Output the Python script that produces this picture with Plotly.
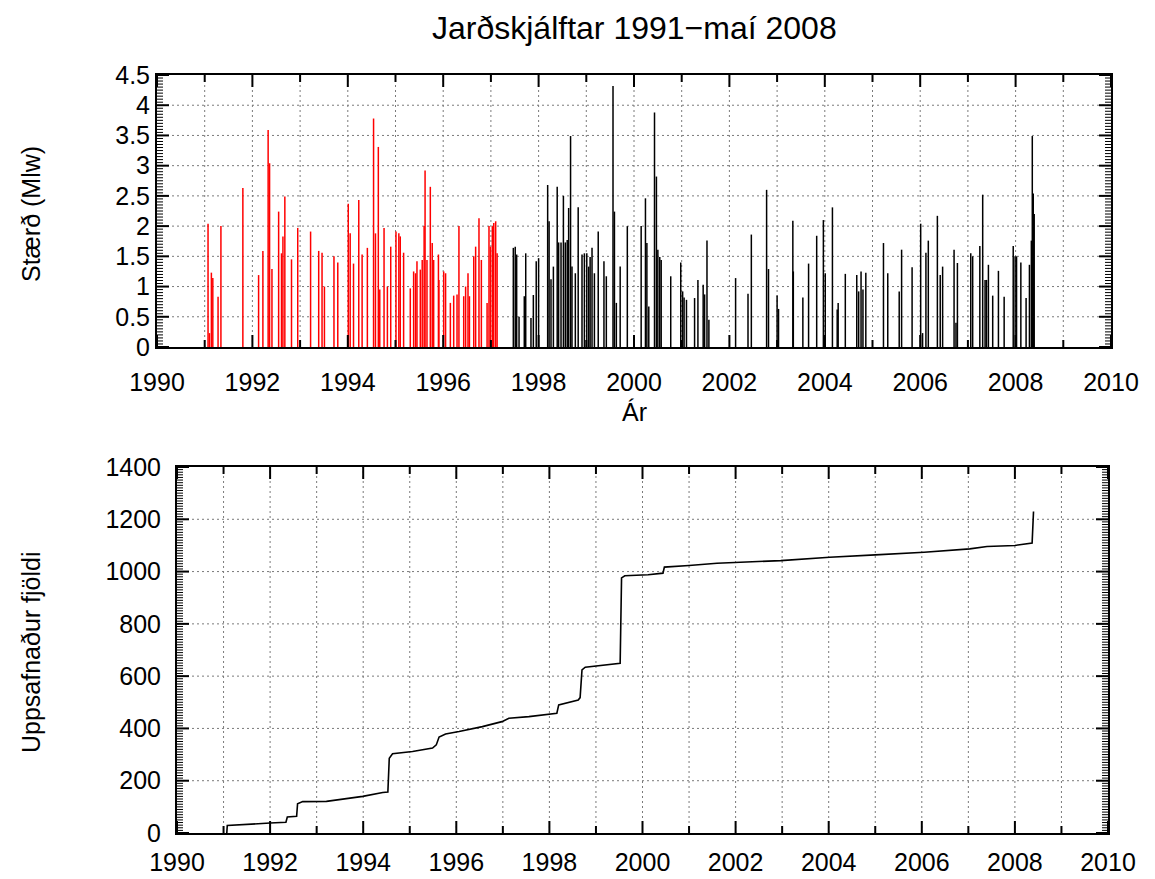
import plotly.graph_objects as go

# ---------------- data ----------------
red_years = [1991.07, 1991.10, 1991.14, 1991.17, 1991.28, 1991.34, 1991.80,
             1992.13, 1992.22, 1992.33, 1992.36, 1992.41, 1992.55, 1992.61, 1992.64,
             1992.68, 1992.82, 1992.95, 1993.22, 1993.39, 1993.46, 1993.51, 1993.71,
             1993.79, 1994.01, 1994.05, 1994.12, 1994.23, 1994.30, 1994.41, 1994.54,
             1994.58, 1994.64, 1994.67, 1994.76, 1994.83, 1994.90, 1995.01, 1995.07,
             1995.10, 1995.17, 1995.31, 1995.38, 1995.42, 1995.45, 1995.52, 1995.56,
             1995.60, 1995.62, 1995.66, 1995.73, 1995.77, 1995.80, 1995.90, 1995.91,
             1996.01, 1996.05, 1996.15, 1996.22, 1996.29, 1996.33, 1996.43, 1996.47,
             1996.52, 1996.55, 1996.64, 1996.68, 1996.75, 1996.80, 1996.92, 1996.96,
             1996.99, 1997.03, 1997.06, 1997.10, 1997.13]
red_mags = [2.04, 0.23, 1.23, 1.14, 0.83, 2.00, 2.63,
            1.19, 1.59, 3.59, 3.04, 1.29, 2.24, 1.55, 1.83,
            2.49, 1.45, 1.97, 1.91, 1.59, 1.56, 1.00, 1.50,
            1.40, 2.37, 1.88, 1.38, 2.43, 1.53, 1.64, 3.78,
            1.88, 3.31, 0.95, 1.97, 1.00, 1.66, 1.91, 1.88,
            1.83, 1.56, 0.97, 1.25, 1.22, 1.42, 1.28, 1.44,
            2.00, 2.92, 1.44, 2.65, 1.72, 1.44, 1.53, 1.11,
            1.25, 1.22, 0.73, 0.85, 0.87, 2.00, 0.84, 1.00,
            1.22, 0.84, 1.50, 1.66, 2.13, 1.44, 0.73, 2.00,
            1.66, 2.00, 2.05, 2.08, 1.55]

black_years = [1997.47, 1997.51, 1997.54, 1997.59, 1997.70, 1997.73, 1997.84, 1997.89,
               1997.95, 1998.00, 1998.19, 1998.22, 1998.26, 1998.31, 1998.39, 1998.42,
               1998.47, 1998.52, 1998.56, 1998.60, 1998.63, 1998.67, 1998.70, 1998.77,
               1998.83, 1998.91, 1998.96, 1999.01, 1999.05, 1999.08, 1999.12, 1999.17,
               1999.25, 1999.37, 1999.42, 1999.56, 1999.59, 1999.63, 1999.71, 1999.86,
               2000.15, 2000.24, 2000.27, 2000.31, 2000.43, 2000.47, 2000.50, 2000.54,
               2000.57, 2000.77, 2000.98, 2001.02, 2001.05, 2001.10, 2001.27, 2001.34,
               2001.45, 2001.48, 2001.53, 2001.57, 2002.13, 2002.39, 2002.46, 2002.78,
               2002.82, 2003.00, 2003.03, 2003.33, 2003.34, 2003.54, 2003.66, 2003.83,
               2003.97, 2004.01, 2004.16, 2004.26, 2004.28, 2004.43, 2004.67, 2004.71,
               2004.76, 2004.80, 2004.86, 2005.23, 2005.32, 2005.56, 2005.61, 2005.83,
               2006.01, 2006.05, 2006.12, 2006.17, 2006.36, 2006.42, 2006.47, 2006.71,
               2006.75, 2006.78, 2007.06, 2007.10, 2007.25, 2007.31, 2007.36, 2007.39,
               2007.43, 2007.52, 2007.64, 2007.76, 2007.95, 2007.99, 2008.02, 2008.11,
               2008.22, 2008.29, 2008.33, 2008.35, 2008.37, 2008.39]
black_mags = [1.64, 1.66, 1.53, 0.50, 0.84, 1.55, 0.48, 0.86,
              1.42, 1.47, 2.68, 2.08, 1.12, 1.33, 2.65, 1.73,
              1.73, 2.50, 1.73, 1.77, 2.30, 3.49, 1.33, 1.22,
              2.31, 1.53, 1.55, 1.55, 1.33, 1.49, 1.64, 1.22,
              1.91, 1.42, 1.17, 4.32, 2.24, 0.73, 1.33, 2.00,
              2.00, 2.46, 1.72, 0.67, 3.88, 2.82, 1.61, 1.49,
              1.44, 1.17, 1.40, 0.92, 0.82, 0.78, 0.81, 1.11,
              1.03, 0.87, 1.76, 0.45, 1.14, 0.88, 1.86, 2.60,
              1.29, 0.85, 0.63, 2.09, 1.25, 0.82, 1.38, 1.84,
              2.10, 1.22, 2.31, 0.62, 0.73, 1.21, 1.19, 0.92,
              1.25, 0.95, 1.23, 1.72, 1.22, 0.92, 1.61, 1.32,
              2.04, 0.23, 1.56, 1.76, 2.17, 1.19, 1.33, 1.61,
              0.40, 1.39, 1.55, 1.50, 1.67, 2.52, 1.11, 1.11,
              1.36, 0.85, 1.26, 0.83, 1.67, 1.50, 1.50, 1.40,
              0.81, 1.36, 1.76, 3.49, 2.54, 2.20]

cum_years = [1991.07, 1991.08, 1992.00, 1992.34, 1992.37, 1992.57, 1992.59, 1992.70,
             1993.21, 1993.99, 1994.42, 1994.53, 1994.56, 1994.63, 1995.06, 1995.49,
             1995.57, 1995.63, 1995.77, 1996.06, 1996.56, 1996.98, 1997.13, 1997.56,
             1998.16, 1998.20, 1998.62, 1998.66, 1998.70, 1998.77, 1999.52, 1999.55,
             1999.62, 2000.12, 2000.44, 2000.47, 2001.00, 2001.60, 2002.97, 2004.02,
             2005.00, 2006.05, 2007.03, 2007.40, 2008.00, 2008.37, 2008.40]
cum_counts = [0, 29, 38, 41, 61, 64, 112, 120,
              121, 140, 155, 157, 286, 303, 312, 325,
              337, 367, 379, 388, 407, 426, 439, 445,
              458, 490, 509, 518, 624, 634, 649, 976,
              984, 988, 994, 1017, 1023, 1032, 1042, 1055,
              1064, 1074, 1087, 1096, 1100, 1109, 1230]

# axis tick / grid values
year_major = list(range(1990, 2011, 2))
year_minor = list(range(1991, 2010, 2))
grid_years = list(range(1991, 2010))
mag_major = [0, 0.5, 1, 1.5, 2, 2.5, 3, 3.5, 4, 4.5]
mag_minor = [k / 20 for k in range(1, 90) if k % 10 != 0]
count_major = [0, 200, 400, 600, 800, 1000, 1200, 1400]
count_minor = [k * 10 for k in range(1, 140) if k % 20 != 0]
grid_mags = [0.5, 1, 1.5, 2, 2.5, 3, 3.5, 4]
grid_counts = [200, 400, 600, 800, 1000, 1200]

title_text = "Jarðskjálftar 1991−maí 2008"
top_ytitle = "Stærð (Mlw)"
top_xtitle = "Ár"
bottom_ytitle = "Uppsafnaður fjöldi"

# ---------------- figure ----------------
W, H = 1155, 879
FONT = "Liberation Sans, Arial, Helvetica, sans-serif"
FS = 25
GRIDC = "#7a7a7a"
DASH = "2px,3px"

# plot-area geometry (pixels) of the two panels
TOP = dict(l=157, r=1111, t=75, b=347, x0=1990, x1=2010, y0=0, y1=4.5)
BOT = dict(l=177, r=1108, t=467, b=833, x0=1990, x1=2010, y0=0, y1=1400)


def impulses(xs, ys):
    X, Y = [], []
    for x, y in zip(xs, ys):
        X += [x, x, None]
        Y += [0, y, None]
    return X, Y


def px(x):
    return x / W


def py(y):
    return 1 - y / H


def tick_segments(g, xvals, yvals, lenpx):
    """Inside tick marks on all four sides, in data units of the panel."""
    ux = (g["x1"] - g["x0"]) / (g["r"] - g["l"]) * lenpx
    uy = (g["y1"] - g["y0"]) / (g["b"] - g["t"]) * lenpx
    X, Y = [], []
    for v in xvals:
        X += [v, v, None, v, v, None]
        Y += [g["y0"], g["y0"] + uy, None, g["y1"], g["y1"] - uy, None]
    for v in yvals:
        X += [g["x0"], g["x0"] + ux, None, g["x1"], g["x1"] - ux, None]
        Y += [v, v, None, v, v, None]
    return X, Y


fig = go.Figure()
rx, ry = impulses(red_years, red_mags)
bx, by = impulses(black_years, black_mags)
fig.add_trace(go.Scatter(x=rx, y=ry, mode="lines", line=dict(color="#ff0000", width=1.5),
                         xaxis="x", yaxis="y", showlegend=False, hoverinfo="skip"))
fig.add_trace(go.Scatter(x=bx, y=by, mode="lines", line=dict(color="#000000", width=1.5),
                         xaxis="x", yaxis="y", showlegend=False, hoverinfo="skip"))
fig.add_trace(go.Scatter(x=cum_years, y=cum_counts, mode="lines",
                         line=dict(color="#000000", width=1.6),
                         xaxis="x2", yaxis="y2", showlegend=False, hoverinfo="skip"))

# tick marks (major and minor) for both panels
for g, xa, ya, ymaj, ymin in ((TOP, "x", "y", mag_major, mag_minor),
                              (BOT, "x2", "y2", count_major, count_minor)):
    mx, my = tick_segments(g, year_major, ymaj, 12)
    fig.add_trace(go.Scatter(x=mx, y=my, mode="lines", line=dict(color="#000000", width=2),
                             xaxis=xa, yaxis=ya, showlegend=False, hoverinfo="skip"))
    nx, ny = tick_segments(g, year_minor, [], 7)
    fig.add_trace(go.Scatter(x=nx, y=ny, mode="lines", line=dict(color="#000000", width=2),
                             xaxis=xa, yaxis=ya, showlegend=False, hoverinfo="skip"))
    sx, sy = tick_segments(g, [], ymin, 6)
    fig.add_trace(go.Scatter(x=sx, y=sy, mode="lines", line=dict(color="#000000", width=1),
                             xaxis=xa, yaxis=ya, showlegend=False, hoverinfo="skip"))


def common():
    return dict(ticks="", showline=True, linewidth=2, linecolor="#000000", mirror=True,
                zeroline=False, automargin=False, showgrid=False,
                tickfont=dict(family=FONT, size=FS, color="black"))


def xaxis(domain, anchor, standoff):
    d = common()
    d.update(domain=domain, anchor=anchor, range=[1990, 2010],
             tickmode="array", tickvals=year_major,
             ticktext=[str(v) for v in year_major], ticklabelstandoff=standoff)
    return d


ytop = common()
ytop.update(domain=[py(TOP["b"]), py(TOP["t"])], anchor="x", range=[0, 4.5],
            tickmode="array", tickvals=mag_major,
            ticktext=[("%g" % v) for v in mag_major], ticklabelstandoff=0)
ybot = common()
ybot.update(domain=[py(BOT["b"]), py(BOT["t"])], anchor="x2", range=[0, 1400],
            tickmode="array", tickvals=count_major,
            ticktext=[str(v) for v in count_major], ticklabelstandoff=9)

# dotted grid lines placed through the axes' own scales
shapes = []
for xr, yr in (("x", "y"), ("x2", "y2")):
    for yv in grid_years:
        shapes.append(dict(type="line", xref=xr, yref=yr + " domain", x0=yv, x1=yv,
                           y0=0, y1=1, layer="below",
                           line=dict(color=GRIDC, width=1, dash=DASH)))
for yv in grid_mags:
    shapes.append(dict(type="line", xref="x domain", yref="y", x0=0, x1=1, y0=yv, y1=yv,
                       layer="below", line=dict(color=GRIDC, width=1, dash=DASH)))
for yv in grid_counts:
    shapes.append(dict(type="line", xref="x2 domain", yref="y2", x0=0, x1=1, y0=yv, y1=yv,
                       layer="below", line=dict(color=GRIDC, width=1, dash=DASH)))

fig.update_layout(
    template="none",
    width=W, height=H,
    margin=dict(l=0, r=0, t=0, b=0, autoexpand=False),
    paper_bgcolor="white", plot_bgcolor="white",
    xaxis=xaxis([px(TOP["l"]), px(TOP["r"])], "y", 12),
    yaxis=ytop,
    xaxis2=xaxis([px(BOT["l"]), px(BOT["r"])], "y2", 6),
    yaxis2=ybot,
    shapes=shapes,
    annotations=[
        dict(text=title_text, x=px(634), y=py(28), xref="paper", yref="paper",
             showarrow=False, font=dict(family=FONT, size=32, color="black"),
             xanchor="center", yanchor="middle"),
        dict(text=top_xtitle, x=px(634), y=py(412), xref="paper", yref="paper",
             showarrow=False, font=dict(family=FONT, size=FS, color="black"),
             xanchor="center", yanchor="middle"),
        dict(text=top_ytitle, x=px(31), y=py(214), xref="paper", yref="paper",
             showarrow=False, textangle=-90, font=dict(family=FONT, size=FS, color="black"),
             xanchor="center", yanchor="middle"),
        dict(text=bottom_ytitle, x=px(31), y=py(652), xref="paper", yref="paper",
             showarrow=False, textangle=-90, font=dict(family=FONT, size=FS, color="black"),
             xanchor="center", yanchor="middle"),
    ],
)
fig.write_html("out.html")
